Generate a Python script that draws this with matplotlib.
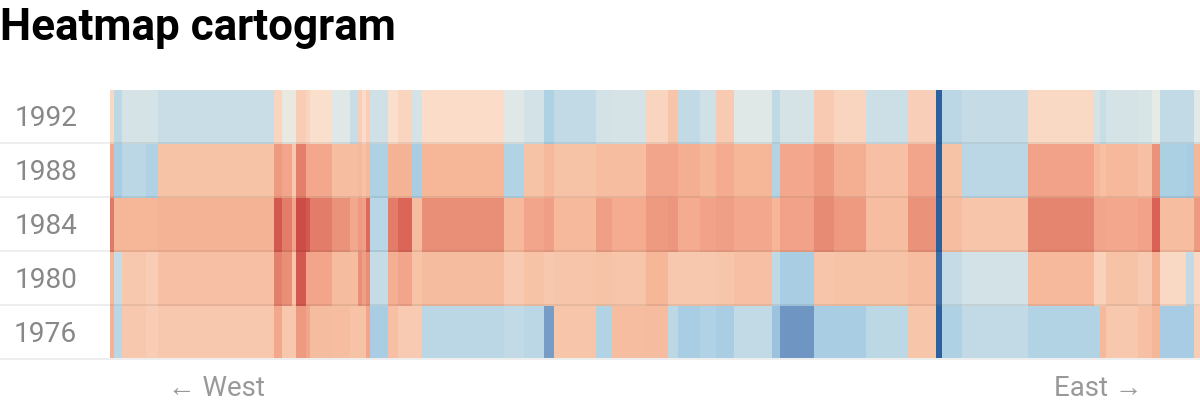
import matplotlib
matplotlib.use("Agg")
import matplotlib.pyplot as plt
import numpy as np
from matplotlib.colors import LinearSegmentedColormap, Normalize
from matplotlib.transforms import ScaledTranslation

plt.rcParams['font.family'] = ['Roboto', 'DejaVu Sans']

years = [1992, 1988, 1984, 1980, 1976]

# column widths, west to east
weights = [2, 4, 12, 6, 58, 4, 5, 2, 5, 2, 11, 9, 4, 2, 2, 2, 9, 5, 7, 5, 41, 10, 10, 5, 21, 8,
           17, 11, 5, 11, 8, 9, 19, 4, 17, 10, 16, 21, 14, 3, 10, 33, 33, 3, 3, 16, 7, 4, 13, 4, 3]

# margins, red positive, blue negative
m1992 = [7, -14, -5, -5, -10, 8, 1, 1, 11, 8, 5, -2, -10, 10, 6, 10, -7, 5, 8, -5, 6, -2, -6, -21, -12, -6,
         -5, 8, 14, -12, -7, 12, -2, -13, -5, 12, 8, -8, 10, -80, -15, -11, 7, -5, -10, -5, -4, 0, -12, -12, -1]
m1988 = [25, -24, -15, -20, 15, 30, 26, 13, 38, 25, 25, 17, 17, 19, 15, 19, -21, 21, 21, -24, 20, -19, 15, 19, 15, 17,
         17, 26, 26, 23, 20, 24, 20, -19, 25, 30, 23, 16, 26, -80, 15, -15, 27, 19, 16, 19, 16, 32, -23, -25, 20]
m1984 = [40, 20, 20, 20, 21, 47, 39, 26, 50, 47, 39, 32, 25, 30, 28, 43, -16, 39, 44, 18, 33, 19, 26, 28, 19, 28,
         24, 30, 31, 24, 27, 28, 25, 20, 27, 34, 30, 17, 32, -80, 17, 14, 36, 26, 26, 25, 27, 45, 17, 17, 30]
m1980 = [20, -11, 13, 11, 16, 38, 33, 14, 47, 26, 26, 18, 18, 33, 28, 33, -11, 23, 26, 15, 18, 12, 15, 13, 14, 15,
         14, 20, 13, 13, 13, 14, 16, -13, -24, 14, 15, 15, 17, -70, -11, -6, 19, 9, 9, 15, 12, 22, 7, -12, 7]
m1976 = [22, -15, 13, 11, 13, 25, 13, 13, 30, 26, 18, 17, 15, 15, 15, 26, -24, 16, 12, 12, -15, -12, -15, -39, 14, -19,
         17, 18, -14, -24, -20, -24, -12, -30, -42, -24, -24, -14, 14, -80, -21, -12, -19, -19, 19, 13, 16, 20, -25, -25, 11]

scale_vals = [-80, -60, -40, -35, -30, -25, -20, -15, -10, -5, 0, 5, 10, 15, 20, 25, 30, 35, 40, 45, 50]
scale_cols = ['#2c619f', '#4d7cb3', '#7399c4', '#8ab0d2', '#9cc3de', '#a7cce3', '#b0d2e4', '#bad7e5', '#c8dde6',
              '#d5e3e7', '#e6ebe6', '#fae0cd', '#f9cfb9', '#f7c4a8', '#f6b698', '#f3a88d', '#ed9a81', '#e78871',
              '#e27a68', '#da6356', '#cc4d47']

norm = Normalize(-80, 50)
cmap = LinearSegmentedColormap.from_list('margins', [(norm(v), c) for v, c in zip(scale_vals, scale_cols)])

fig = plt.figure(figsize=(12, 4.12), dpi=100)
ax = fig.add_axes([110 / 1200, 1 - 358 / 412, 1090 / 1200, 268 / 412])

x_edges = np.concatenate([[0], np.cumsum(weights)])
y_edges = np.arange(1974, 1995, 4)
grid = np.array([m1976, m1980, m1984, m1988, m1992])
ax.pcolormesh(x_edges, y_edges, grid, cmap=cmap, norm=norm, linewidth=0)

px = 4 / 54  # one row is 4 years on 54 pixels
ax.set_xlim(0, x_edges[-1])
ax.set_ylim(1974 + 2 * px, 1994)

for y in y_edges[:-1]:
    ax.plot([-55, x_edges[-1]], [y + px, y + px], color='black', alpha=0.065, lw=1.44,
            clip_on=False, solid_capstyle='butt')

ax.set_xticks([])
ax.set_yticks(years)
ax.set_yticklabels(years, fontsize=20.2, color='#888888')
ax.tick_params(axis='y', length=0, pad=23.5)
up = ScaledTranslation(0, 2 / 100, fig.dpi_scale_trans)
for lab in ax.get_yticklabels():
    lab.set_transform(lab.get_transform() + up)
for s in ax.spines.values():
    s.set_visible(False)

arrow_fonts = ['Roboto', 'Liberation Sans', 'DejaVu Sans']
fig.text(0, 1 - 40 / 412, 'Heatmap cartogram', fontsize=31.7, fontweight='bold', color='black', va='baseline')
fig.text(168 / 1200, 1 - 388 / 412, '← West', fontsize=19.9, color='#999999', va='center', family=arrow_fonts)
fig.text(1142 / 1200, 1 - 388 / 412, 'East →', fontsize=19.9, color='#999999', va='center', ha='right', family=arrow_fonts)

fig.savefig('out.png', dpi=100)
